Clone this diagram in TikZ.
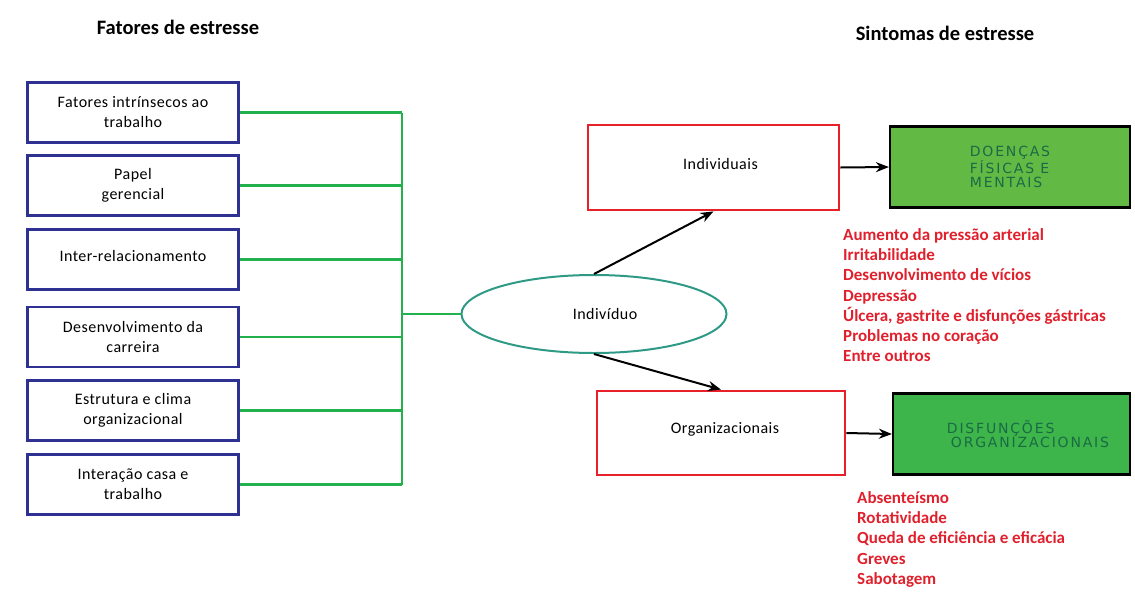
\documentclass[tikz,border=0pt]{standalone}
\usepackage{fontspec}
\setmainfont{Carlito}[LetterSpace=3]
\newfontfamily\boldlist{Carlito}[BoldFont=*-Bold]
\newfontfamily\capsfont[LetterSpace=13]{DejaVu Sans}
\usepackage{tikz}
\usetikzlibrary{arrows.meta,positioning,shapes.geometric}
\definecolor{fatorblue}{HTML}{2E3192}
\definecolor{busgreen}{HTML}{22B14C}
\definecolor{ovalteal}{HTML}{2E9A86}
\definecolor{sintred}{HTML}{E8202A}
\definecolor{fillone}{HTML}{62BA45}
\definecolor{filltwo}{HTML}{3DB54A}
\definecolor{capsgreen}{HTML}{1A6B45}
\definecolor{listred}{HTML}{E0202C}

\begin{document}
\begin{tikzpicture}[x=1pt, y=-1pt,
  every node/.style={font=\fontsize{16}{20}\selectfont, align=center, inner sep=0pt},
  fator/.style={draw=fatorblue, line width=2.8pt, minimum width=211pt, minimum height=60pt},
  sintoma/.style={draw=sintred, line width=2.8pt, minimum height=85pt},
  doenca/.style={draw=black, line width=2.2pt, minimum width=240pt, minimum height=81pt, text=capsgreen, align=left, font=\capsfont\fontsize{14}{14.5}\selectfont},
  lista/.style={anchor=north west, align=left, text=listred, font=\boldlist\bfseries\fontsize{17}{20.3}\selectfont},
  titulo/.style={font=\boldlist\bfseries\fontsize{20.5}{22}\selectfont},
  bus/.style={busgreen, line width=2.8pt},
  seta/.style={-{Stealth[length=13pt,width=10pt]}, line width=2pt}]
\useasboundingbox (0,0) rectangle (1135,592);

\node[titulo] (tfatores) at (178,27) {Fatores de estresse};
\node[titulo] (tsintomas) at (945,33) {Sintomas de estresse};

\node[fator] (intrinsecos) at (133,112.5) {Fatores intrínsecos ao\\trabalho};
\node[fator] (papel) at (133,185.5) {Papel\\gerencial};
\node[fator] (interrel) at (133,259.5) {\raisebox{7pt}{Inter-relacionamento}};
\node[fator] (carreira) at (133,337) {Desenvolvimento da\\carreira};
\node[fator] (estrutura) at (133,410.5) {Estrutura e clima\\organizacional};
\node[fator] (casa) at (133,484.5) {Interação casa e\\trabalho};

\coordinate (bus) at (402,314);
\node[ellipse, draw=ovalteal, line width=2pt, minimum width=265pt, minimum height=78pt] (individuo) at (594,314) {\hspace*{22pt}Indivíduo};

\foreach \f in {intrinsecos,papel,interrel,carreira,estrutura,casa}
  \draw[bus] (\f.east) -- (\f.east -| bus);
\draw[bus] (intrinsecos.east -| bus) -- (casa.east -| bus);
\draw[bus] (bus) -- (individuo.west);

\node[sintoma, minimum width=251pt] (individuais) at (713.5,167.5) {\raisebox{7pt}{\hspace*{14pt}Individuais}};
\node[sintoma, minimum width=248pt, minimum height=84pt] (organizacionais) at (721,433) {\raisebox{11pt}{\hspace*{8pt}Organizacionais}};

\node[doenca, fill=fillone] (doencas) at (1010,167) {DOENÇAS\\FÍSICAS E\\MENTAIS};
\node[doenca, fill=filltwo, minimum width=237pt] (disfuncoes) at (1011.5,434) {\hspace*{33pt}DISFUNÇÕES\\\hspace*{37pt}ORGANIZACIONAIS};

\draw[seta] (individuo.north) -- (individuais.south);
\draw[seta] (individuo.south) -- (organizacionais.north);
\draw[seta] (individuais.east) -- (doencas.west);
\draw[seta] (organizacionais.east) -- (disfuncoes.west);

\node[lista] (sintind) at (843,228) {Aumento da pressão arterial\\Irritabilidade\\Desenvolvimento de vícios\\Depressão\\Úlcera, gastrite e disfunções gástricas\\Problemas no coração\\Entre outros};
\node[lista] (sintorg) at (857,491) {Absenteísmo\\Rotatividade\\Queda de eficiência e eficácia\\Greves\\Sabotagem};
\end{tikzpicture}
\end{document}
